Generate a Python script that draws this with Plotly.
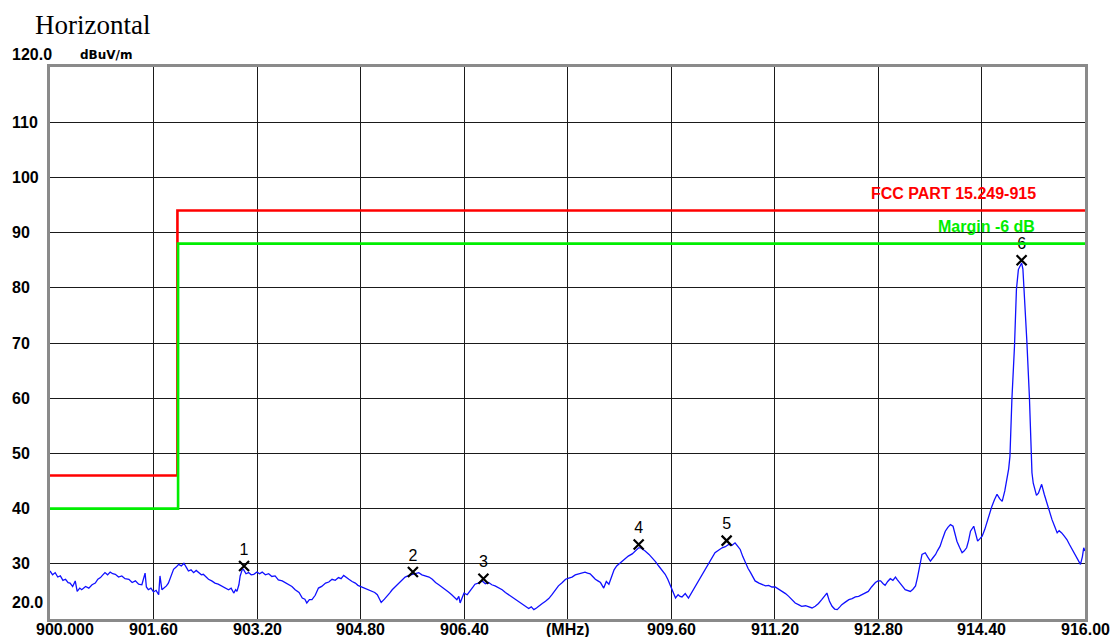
import plotly.graph_objects as go

# ---------------- data ----------------
freq_mhz = [
    900.00, 900.04, 900.08, 900.12, 900.16, 900.20, 900.24, 900.28, 900.31, 900.35,
    900.39, 900.42, 900.46, 900.49, 900.55, 900.60, 900.65, 900.70, 900.74, 900.78,
    900.81, 900.85, 900.89, 900.93, 900.97, 901.01, 901.06, 901.11, 901.16, 901.22,
    901.27, 901.32, 901.37, 901.42, 901.47, 901.49, 901.52, 901.56, 901.60, 901.64,
    901.68, 901.70, 901.73, 901.76, 901.80, 901.83, 901.87, 901.91, 901.95, 901.99,
    902.03, 902.07, 902.11, 902.14, 902.18, 902.22, 902.26, 902.30, 902.34, 902.37,
    902.41, 902.45, 902.50, 902.55, 902.60, 902.66, 902.71, 902.76, 902.80, 902.84,
    902.87, 902.89, 902.92, 902.94, 902.97, 902.99, 903.03, 903.07, 903.11, 903.15,
    903.20, 903.24, 903.28, 903.33, 903.38, 903.43, 903.48, 903.53, 903.59, 903.64,
    903.69, 903.74, 903.79, 903.85, 903.90, 903.94, 903.97, 904.01, 904.05, 904.10,
    904.15, 904.20, 904.26, 904.31, 904.36, 904.41, 904.46, 904.50, 904.54, 904.58,
    904.62, 904.67, 904.72, 904.76, 904.80, 904.84, 904.87, 904.93, 904.98, 905.02,
    905.06, 905.09, 905.12, 905.17, 905.21, 905.25, 905.29, 905.34, 905.39, 905.44,
    905.49, 905.55, 905.60, 905.65, 905.70, 905.75, 905.80, 905.86, 905.91, 905.96,
    906.01, 906.06, 906.11, 906.16, 906.21, 906.25, 906.29, 906.32, 906.34, 906.37,
    906.40, 906.45, 906.50, 906.54, 906.57, 906.62, 906.68, 906.73, 906.78, 906.83,
    906.88, 906.94, 906.99, 907.04, 907.09, 907.14, 907.19, 907.25, 907.30, 907.35,
    907.40, 907.44, 907.48, 907.52, 907.55, 907.61, 907.66, 907.71, 907.76, 907.81,
    907.86, 907.92, 907.97, 908.02, 908.07, 908.12, 908.17, 908.22, 908.27, 908.31,
    908.35, 908.39, 908.43, 908.47, 908.51, 908.56, 908.60, 908.64, 908.69, 908.72,
    908.76, 908.80, 908.84, 908.89, 908.94, 909.00, 909.05, 909.10, 909.13, 909.17,
    909.20, 909.26, 909.31, 909.36, 909.41, 909.46, 909.51, 909.55, 909.59, 909.63,
    909.67, 909.71, 909.74, 909.77, 909.82, 909.87, 909.92, 909.97, 910.03, 910.08,
    910.13, 910.18, 910.23, 910.28, 910.34, 910.39, 910.44, 910.49, 910.54, 910.59,
    910.63, 910.67, 910.71, 910.75, 910.79, 910.83, 910.87, 910.90, 910.96, 911.01,
    911.06, 911.11, 911.16, 911.21, 911.27, 911.32, 911.37, 911.42, 911.47, 911.52,
    911.57, 911.62, 911.68, 911.73, 911.78, 911.83, 911.88, 911.93, 911.97, 912.01,
    912.05, 912.09, 912.13, 912.17, 912.21, 912.24, 912.30, 912.35, 912.40, 912.45,
    912.50, 912.55, 912.60, 912.65, 912.70, 912.76, 912.80, 912.84, 912.88, 912.91,
    912.95, 912.99, 913.03, 913.07, 913.10, 913.14, 913.18, 913.22, 913.26, 913.30,
    913.34, 913.38, 913.41, 913.43, 913.46, 913.48, 913.51, 913.53, 913.57, 913.61,
    913.65, 913.69, 913.72, 913.76, 913.80, 913.84, 913.88, 913.92, 913.96, 913.99,
    914.02, 914.06, 914.10, 914.13, 914.17, 914.20, 914.23, 914.28, 914.31, 914.34,
    914.38, 914.41, 914.45, 914.48, 914.52, 914.56, 914.60, 914.64, 914.68, 914.72,
    914.76, 914.79, 914.82, 914.84, 914.87, 914.91, 914.94, 914.97, 915.00, 915.02,
    915.04, 915.06, 915.10, 915.14, 915.18, 915.20, 915.22, 915.25, 915.28, 915.31,
    915.33, 915.37, 915.41, 915.45, 915.49, 915.53, 915.57, 915.60, 915.64, 915.68,
    915.72, 915.76, 915.80, 915.84, 915.88, 915.91, 915.93, 915.96, 915.98, 916.00,
]
level_dbuv = [
    28.7, 28.0, 28.4, 27.6, 27.8, 27.0, 27.2, 26.6, 26.5, 25.9,
    26.9, 25.0, 25.6, 25.3, 25.9, 25.6, 26.2, 26.5, 27.2, 27.5,
    27.9, 28.4, 28.0, 28.5, 28.2, 28.1, 27.6, 27.8, 27.3, 27.2,
    26.6, 26.9, 26.3, 26.2, 28.3, 25.8, 25.3, 25.6, 24.9, 25.2,
    24.4, 27.8, 25.3, 25.6, 26.0, 26.5, 27.6, 29.0, 29.4, 29.9,
    29.6, 30.1, 29.3, 28.7, 28.9, 28.4, 28.8, 28.4, 28.0, 28.1,
    27.6, 27.2, 26.9, 26.5, 26.3, 25.9, 25.5, 25.3, 25.6, 24.7,
    25.3, 25.0, 26.2, 27.8, 28.9, 29.0, 28.2, 28.4, 28.0, 28.1,
    28.5, 28.2, 28.5, 28.0, 28.2, 27.7, 27.8, 27.1, 26.9, 26.6,
    26.2, 25.9, 25.3, 24.8, 23.8, 23.6, 22.9, 23.5, 23.5, 24.3,
    25.6, 25.9, 26.5, 26.7, 27.2, 27.0, 27.5, 27.3, 27.9, 27.5,
    27.2, 26.8, 26.5, 26.1, 25.9, 25.6, 25.5, 25.2, 25.0, 24.8,
    24.4, 23.8, 23.0, 23.6, 24.1, 24.7, 25.3, 25.9, 26.5, 27.0,
    27.6, 27.9, 28.1, 28.3, 28.4, 28.0, 27.8, 27.6, 27.2, 26.6,
    26.2, 25.8, 25.3, 24.9, 24.4, 24.0, 23.5, 24.1, 22.9, 23.8,
    24.7, 24.4, 25.3, 25.8, 26.3, 26.5, 26.9, 26.4, 26.6, 26.2,
    26.0, 25.7, 25.3, 24.8, 24.4, 23.9, 23.5, 23.0, 22.6, 22.3,
    21.9, 22.2, 21.7, 22.0, 22.3, 22.8, 23.2, 23.7, 24.4, 25.3,
    26.0, 26.6, 27.2, 27.4, 27.6, 28.0, 28.2, 28.4, 28.5, 28.3,
    28.2, 27.7, 27.2, 26.9, 26.6, 25.6, 26.8, 26.3, 27.8, 28.9,
    29.6, 30.0, 30.5, 31.0, 31.4, 31.8, 32.3, 32.9, 32.9, 32.6,
    32.3, 31.7, 31.1, 30.4, 29.6, 28.9, 28.1, 27.2, 26.0, 24.8,
    23.8, 24.4, 24.1, 24.0, 24.6, 23.8, 24.8, 25.9, 27.0, 28.1,
    29.2, 30.2, 31.1, 32.0, 32.5, 32.9, 33.1, 33.5, 33.3, 33.8,
    33.2, 32.6, 31.3, 30.2, 29.2, 28.4, 27.5, 26.9, 26.5, 26.3,
    26.0, 26.1, 25.8, 25.8, 25.4, 25.0, 24.6, 24.1, 23.5, 22.9,
    22.6, 22.3, 22.4, 22.2, 22.0, 22.3, 22.8, 23.5, 24.2, 24.7,
    23.2, 22.3, 21.8, 21.7, 22.2, 22.6, 23.1, 23.5, 23.7, 24.0,
    24.1, 24.4, 24.6, 25.0, 25.8, 26.6, 26.9, 26.9, 26.4, 26.1,
    26.8, 27.3, 27.0, 27.6, 27.1, 26.6, 25.9, 25.3, 25.2, 25.0,
    25.4, 26.0, 27.5, 29.0, 30.5, 31.7, 31.9, 32.0, 31.2, 30.5,
    31.1, 31.7, 32.4, 33.2, 34.6, 35.9, 36.6, 37.1, 36.8, 35.5,
    34.1, 33.0, 32.0, 32.3, 32.9, 34.2, 35.9, 36.8, 35.3, 34.1,
    34.6, 35.0, 36.2, 37.4, 38.8, 40.4, 41.6, 42.6, 41.8, 41.3,
    43.2, 45.3, 47.2, 49.5, 59.8, 69.4, 79.7, 83.3, 84.2, 84.5,
    83.4, 79.7, 70.6, 60.4, 46.5, 44.6, 43.8, 42.4, 42.8, 43.6,
    44.4, 42.6, 41.0, 39.5, 38.0, 36.8, 35.6, 36.0, 35.6, 35.0,
    34.4, 33.5, 32.6, 31.7, 30.8, 30.2, 29.9, 31.3, 32.9, 32.3,
]

# peak markers
marker_ids = ["1", "2", "3", "4", "5", "6"]
marker_freq = [903.00, 905.61, 906.70, 909.10, 910.46, 915.02]
marker_level = [29.6, 28.5, 27.3, 33.5, 34.2, 85.0]

# limit lines (FCC 15.249 and -6 dB margin)
limit_freq = [900.0, 901.97, 901.97, 916.0]
limit_level = [46.0, 46.0, 94.0, 94.0]
margin_freq = [900.0, 901.98, 901.98, 916.0]
margin_level = [40.0, 40.0, 88.0, 88.0]
limit_name = "FCC PART 15.249-915"
margin_name = "Margin -6 dB"

# axes
x_ticks = [900.0, 901.6, 903.2, 904.8, 906.4, 908.0, 909.6, 911.2, 912.8, 914.4, 916.0]
x_tick_labels = ["900.000", "901.60", "903.20", "904.80", "906.40", "(MHz)",
                 "909.60", "911.20", "912.80", "914.40", "916.00"]
y_ticks = [20, 30, 40, 50, 60, 70, 80, 90, 100, 110, 120]
y_tick_labels = ["20.0", "30", "40", "50", "60", "70", "80", "90", "100", "110", "120.0"]

# ---------------- figure ----------------
LBL_FONT = dict(family="Liberation Sans, Arial, sans-serif", size=16, color="black", weight="bold")

fig = go.Figure()

fig.add_trace(go.Scatter(
    x=freq_mhz, y=level_dbuv, mode="lines",
    line=dict(color="#1010ff", width=1.3), hoverinfo="skip"))

fig.add_trace(go.Scatter(
    x=marker_freq, y=marker_level, mode="markers+text",
    text=marker_ids, textposition="top center",
    textfont=dict(family="Liberation Sans, Arial, sans-serif", size=16, color="black"),
    marker=dict(symbol="x-thin", size=10, line=dict(color="black", width=2.2), color="black"),
    cliponaxis=False, hoverinfo="skip"))

fig.add_trace(go.Scatter(
    x=limit_freq, y=limit_level, mode="lines",
    line=dict(color="#ff0000", width=2.6), hoverinfo="skip"))
fig.add_trace(go.Scatter(
    x=margin_freq, y=margin_level, mode="lines",
    line=dict(color="#00ee00", width=2.6), hoverinfo="skip"))

annotations = []
# y labels (left-aligned at the figure's left edge)
for v, t in zip(y_ticks, y_tick_labels):
    shift = 0
    if t == "20.0":
        shift = 17
    elif t == "120.0":
        shift = 13
    annotations.append(dict(xref="paper", yref="y", x=0, y=v, xshift=-40, yshift=shift,
                            xanchor="left", yanchor="middle", text=t, showarrow=False,
                            font=LBL_FONT))
# x labels
for v, t in zip(x_ticks, x_tick_labels):
    xs = 15 if t == "900.000" else 0
    annotations.append(dict(xref="x", yref="paper", x=v, y=0, xshift=xs, yshift=-10,
                            xanchor="center", yanchor="middle", text=t, showarrow=False,
                            font=LBL_FONT))
# unit label
annotations.append(dict(xref="paper", yref="paper", x=0, y=1, xshift=28, yshift=12.5,
                        xanchor="left", yanchor="middle", text="dBuV/m", showarrow=False,
                        font=dict(family="DejaVu Sans, sans-serif", size=12, color="black",
                                  weight="bold")))
# title
annotations.append(dict(xref="paper", yref="paper", x=0, y=1, xshift=-17, yshift=42,
                        xanchor="left", yanchor="middle", text="Horizontal", showarrow=False,
                        font=dict(family="Liberation Serif, Times New Roman, serif", size=27,
                                  color="black")))
# limit labels
annotations.append(dict(xref="paper", yref="y", x=(1038 - 50) / 1035, y=limit_level[-1],
                        yshift=17, xanchor="right", yanchor="middle", text=limit_name,
                        showarrow=False,
                        font=dict(family="Liberation Sans, Arial, sans-serif", size=16,
                                  color="#ff0000", weight="bold")))
annotations.append(dict(xref="paper", yref="y", x=(1037 - 50) / 1035, y=margin_level[-1],
                        yshift=17, xanchor="right", yanchor="middle", text=margin_name,
                        showarrow=False,
                        font=dict(family="Liberation Sans, Arial, sans-serif", size=16,
                                  color="#00ee00", weight="bold")))

fig.update_layout(
    width=1115, height=637,
    margin=dict(l=50, r=30, t=67, b=18, autoexpand=False),
    paper_bgcolor="white", plot_bgcolor="white",
    showlegend=False,
    annotations=annotations,
)
fig.update_xaxes(range=[900, 916], tickvals=x_ticks, showticklabels=False, ticks="",
                 showgrid=True, gridcolor="#1a1a1a", gridwidth=1, zeroline=False,
                 showline=True, mirror=True, linecolor="#8a8a8a", linewidth=3)
fig.update_yaxes(range=[20, 120], tickvals=y_ticks, showticklabels=False, ticks="",
                 showgrid=True, gridcolor="#1a1a1a", gridwidth=1, zeroline=False,
                 showline=True, mirror=True, linecolor="#8a8a8a", linewidth=3)

fig.write_html(
    "out.html",
    config={"displayModeBar": False},
    post_script="document.body.style.margin='0';document.body.style.overflow='hidden';",
)
